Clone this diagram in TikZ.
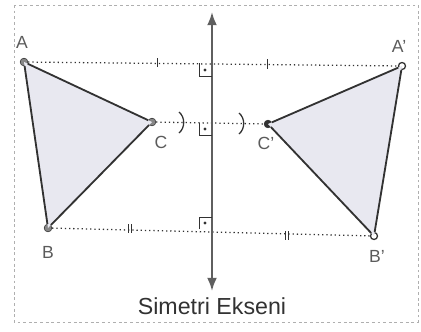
\documentclass[tikz,border=0pt]{standalone}
\usepackage{fontspec}
\setmainfont{Liberation Sans}
\usetikzlibrary{arrows.meta,positioning,calc}
\definecolor{cfill}{RGB}{232,232,240}
\definecolor{cedge}{RGB}{50,50,50}
\definecolor{cdot}{RGB}{135,135,135}
\definecolor{cframe}{RGB}{175,175,175}

\begin{document}
\begin{tikzpicture}[x=0.025cm,y=-0.025cm,>=Latex,
  pt/.style={circle,fill=cdot,draw=cedge,line width=0.4pt,inner sep=0pt,minimum size=5.5pt},
  ptw/.style={circle,fill=white,draw=cedge,line width=0.9pt,inner sep=0pt,minimum size=5pt},
  lbl/.style={font=\fontsize{12.5}{14}\selectfont,text=cedge!80},
  dotline/.style={cedge,line width=0.9pt,dash pattern=on 0.9pt off 2.1pt},
  edge/.style={cedge,line width=1.3pt},
  tickmark/.style={cedge,line width=0.7pt}]
\useasboundingbox (0,0) rectangle (421,331);
% ===================== frame and axis =====================
\draw[cframe,line width=0.4pt,dash pattern=on 2pt off 2pt] (14,5) rectangle (418,322);
\coordinate (top) at (212,12);
\coordinate (bot) at (212,291);
\node[font=\fontsize{16.5}{18}\selectfont,text=cedge] (axislbl) at (212,306) {Simetri Ekseni};
% ===================== points =====================
\node[pt] (A) at (24,62) {};
\node[pt] (C) at (152,122) {};
\node[pt] (B) at (48,228) {};
\node[ptw] (Ap) at (402,66) {};
\node[pt,fill=cedge] (Cp) at (268,124) {};
\node[ptw] (Bp) at (374,236) {};
% triangles
\fill[cfill] (A.center) -- (B.center) -- (C.center) -- cycle;
\fill[cfill] (Ap.center) -- (Bp.center) -- (Cp.center) -- cycle;
% ===================== perpendiculars =====================
\draw[dotline] (A) -- (Ap);
\draw[dotline] (C) -- (Cp);
\draw[dotline] (B) -- (Bp);
\draw[<->,cdot!70!black,line width=1.4pt] (top) -- (bot);
% equal marks
\draw[tickmark] (157,58) -- (157,67);
\draw[tickmark] (267,59) -- (267,69);
\draw[tickmark] (128,224) -- (128,233);
\draw[tickmark] (131,224) -- (131,233);
\draw[tickmark] (285,231) -- (285,240);
\draw[tickmark] (288,231) -- (288,240);
\draw[tickmark,line width=0.9pt] (179,112) to[bend left=50] (179,133);
\draw[tickmark,line width=0.9pt] (239,113) to[bend left=50] (239,134);
% right angles
\draw[tickmark] (199,63) -- (199,76) -- (212,76);
\fill[cedge] (205,70) circle (1.1pt);
\draw[tickmark] (199,123) -- (199,135) -- (212,135);
\fill[cedge] (205,129) circle (1.1pt);
\draw[tickmark] (199,229) -- (199,217) -- (212,217);
\fill[cedge] (205,223) circle (1.1pt);
% ===================== edges =====================
\draw[edge] (A) -- (C) -- (B) -- (A);
\draw[edge] (Ap) -- (Cp) -- (Bp) -- (Ap);
% labels
\node[lbl] (Albl) at (22,42) {A};
\node[lbl] (Clbl) at (161,142) {C};
\node[lbl] (Blbl) at (48,252) {B};
\node[lbl] (Aplbl) at (399,46) {A'};
\node[lbl] (Cplbl) at (266,143) {C'};
\node[lbl] (Bplbl) at (377,256) {B'};
\end{tikzpicture}
\end{document}
